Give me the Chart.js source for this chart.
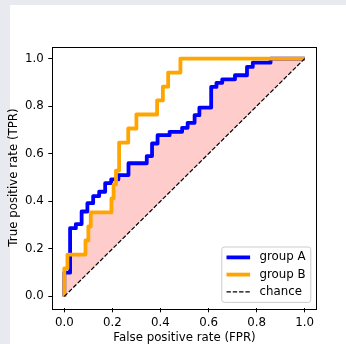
<!DOCTYPE html>
<html lang="en">
<head>
  <meta charset="UTF-8" />
  <title>ROC curves</title>
  <script src="https://cdn.jsdelivr.net/npm/chart.js"></script>
  <style>
    body { margin: 0; background: #e8eaef; width: 346px; height: 344px; overflow: hidden; }
    #card { position: absolute; left: 10px; top: 5px; right: 0; bottom: 0; background: #fff; }
    #roc { position: absolute; left: 0; top: 0; }
  </style>
</head>
<body>
  <div id="card"></div>
  <canvas id="roc" width="346" height="344"></canvas>

  <script>
    // ROC points
    const fprA = [0, 0, 0.024, 0.024, 0.048, 0.048, 0.072, 0.072, 0.096, 0.096, 0.12, 0.12, 0.145, 0.145,
                  0.17, 0.17, 0.195, 0.195, 0.225, 0.225, 0.267, 0.267, 0.343, 0.343, 0.365, 0.365,
                  0.388, 0.388, 0.438, 0.438, 0.49, 0.49, 0.513, 0.513, 0.542, 0.542, 0.562, 0.562,
                  0.611, 0.611, 0.633, 0.633, 0.657, 0.657, 0.71, 0.71, 0.76, 0.76, 0.784, 0.784,
                  0.858, 0.858, 1.0];
    const tprA = [0, 0.10, 0.10, 0.287, 0.287, 0.304, 0.304, 0.357, 0.357, 0.392, 0.392, 0.422, 0.422, 0.44,
                  0.44, 0.476, 0.476, 0.492, 0.492, 0.51, 0.51, 0.56, 0.56, 0.59, 0.59, 0.643,
                  0.643, 0.678, 0.678, 0.692, 0.692, 0.709, 0.709, 0.73, 0.73, 0.762, 0.762, 0.794,
                  0.794, 0.881, 0.881, 0.898, 0.898, 0.913, 0.913, 0.93, 0.93, 0.965, 0.965, 0.983,
                  0.983, 1.0, 1.0];
    const fprB = [0, 0, 0.013, 0.013, 0.088, 0.088, 0.1, 0.1, 0.11, 0.11, 0.196, 0.196, 0.205, 0.205,
                  0.215, 0.215, 0.228, 0.228, 0.266, 0.266, 0.3, 0.3, 0.386, 0.386, 0.41, 0.41,
                  0.432, 0.432, 0.483, 0.483, 1.0];
    const tprB = [0, 0.118, 0.118, 0.176, 0.176, 0.235, 0.235, 0.294, 0.294, 0.353, 0.353, 0.412, 0.412, 0.471,
                  0.471, 0.529, 0.529, 0.647, 0.647, 0.706, 0.706, 0.765, 0.765, 0.824, 0.824, 0.882,
                  0.882, 0.941, 0.941, 1.0, 1.0];
    const chanceX = [0, 1];
    const chanceY = [0, 1];
    const xTicks = [0, 0.2, 0.4, 0.6, 0.8, 1.0];
    const yTicks = [0, 0.2, 0.4, 0.6, 0.8, 1.0];
    const seriesNames = ["group A", "group B", "chance"];

    const pts = (xs, ys) => xs.map((x, i) => ({ x: x, y: ys[i] }));

    // lower of the two step curves, for the shaded area
    function before(fpr, tpr, x) { let v = tpr[0]; for (let i = 0; i < fpr.length; i++) if (fpr[i] < x) v = tpr[i]; return v; }
    function after(fpr, tpr, x) { let v = tpr[0]; for (let i = 0; i < fpr.length; i++) if (fpr[i] <= x) v = tpr[i]; return v; }
    const allX = [...new Set([...fprA, ...fprB])].sort((a, b) => a - b);
    const lower = [];
    allX.forEach(x => {
      lower.push({ x: x, y: Math.min(before(fprA, tprA, x), before(fprB, tprB, x)) });
      lower.push({ x: x, y: Math.min(after(fprA, tprA, x), after(fprB, tprB, x)) });
    });

    const FONT = { family: "DejaVu Sans", size: 11.8, lineHeight: 1.2 };
    const TITLE_FONT = { family: "DejaVu Sans", size: 11.8, lineHeight: 1.0 };

    // axes frame + matplotlib-like legend box
    const frame = {
      id: "frame",
      afterDraw(chart) {
        const { ctx, chartArea: a } = chart;
        ctx.save();
        ctx.strokeStyle = "#000";
        ctx.lineWidth = 1;
        ctx.strokeRect(Math.round(a.left) + 0.5, Math.round(a.top) + 0.5,
                       Math.round(a.right - a.left), Math.round(a.bottom - a.top));

        const w = 89, h = 55.4;
        const bx = a.right - 5.9 - w, by = a.bottom - 5.9 - h;
        ctx.globalAlpha = 0.8;
        ctx.fillStyle = "#fff";
        ctx.beginPath();
        ctx.roundRect(bx, by, w, h, 2.5);
        ctx.fill();
        ctx.globalAlpha = 1;
        ctx.strokeStyle = "#cccccc";
        ctx.stroke();

        ctx.font = FONT.size + "px 'DejaVu Sans'";
        ctx.textBaseline = "middle";
        ctx.fillStyle = "#000";
        for (let i = 0; i < 3; i++) {
          const ds = chart.data.datasets[i];
          const yy = by + 4.7 + 5.7 + i * 17.2;
          ctx.beginPath();
          ctx.strokeStyle = ds.borderColor;
          ctx.lineWidth = ds.borderWidth;
          ctx.setLineDash(ds.borderDash || []);
          ctx.moveTo(bx + 4.7, yy);
          ctx.lineTo(bx + 4.7 + 23.6, yy);
          ctx.stroke();
          ctx.setLineDash([]);
          ctx.fillText(ds.label, bx + 4.7 + 23.6 + 9.4, yy);
        }
        ctx.restore();
      }
    };

    const tickCfg = (padding) => ({
      font: FONT, color: "#000", padding: padding, maxRotation: 0, autoSkip: false,
      callback: v => v.toFixed(1)
    });
    const gridCfg = { drawOnChartArea: false, tickLength: 4, tickColor: "#000", tickWidth: 1 };

    new Chart(document.getElementById("roc"), {
      type: "line",
      data: {
        datasets: [
          { label: seriesNames[0], data: pts(fprA, tprA), borderColor: "#0000ff", borderWidth: 3.8,
            pointRadius: 0, fill: false, order: 2, borderJoinStyle: "round" },
          { label: seriesNames[1], data: pts(fprB, tprB), borderColor: "#ffa500", borderWidth: 3.8,
            pointRadius: 0, fill: false, order: 1, borderJoinStyle: "round" },
          { label: seriesNames[2], data: pts(chanceX, chanceY), borderColor: "#000", borderWidth: 1.2,
            borderDash: [4.4, 1.9], pointRadius: 0, fill: false, order: 0 },
          { label: "area", data: lower, borderWidth: 0, borderColor: "rgba(0,0,0,0)",
            backgroundColor: "rgba(255,0,0,0.2)", pointRadius: 0, fill: { target: 2 }, order: 3 }
        ]
      },
      options: {
        responsive: false,
        animation: false,
        layout: { padding: { left: 0, top: 46.7, right: 29.3, bottom: 0 } },
        plugins: { legend: { display: false }, tooltip: { enabled: false } },
        scales: {
          x: {
            type: "linear", min: -0.05, max: 1.05,
            afterBuildTicks: s => { s.ticks = xTicks.map(v => ({ value: v })); },
            afterFit: s => { s.height = 35.7; },
            ticks: tickCfg(3.3),
            grid: gridCfg,
            border: { display: false },
            title: { display: true, text: "False positive rate (FPR)", color: "#000", font: TITLE_FONT,
                     padding: { top: 0, bottom: 0 } }
          },
          y: {
            type: "linear", min: -0.05, max: 1.05,
            afterBuildTicks: s => { s.ticks = yTicks.map(v => ({ value: v })); },
            afterFit: s => { s.width = 52.3; },
            ticks: tickCfg(4.5),
            grid: gridCfg,
            border: { display: false },
            title: { display: true, text: "True positive rate (TPR)", color: "#000", font: TITLE_FONT,
                     padding: { top: 8.1, bottom: 0 } }
          }
        }
      },
      plugins: [frame]
    });
  </script>
</body>
</html>
